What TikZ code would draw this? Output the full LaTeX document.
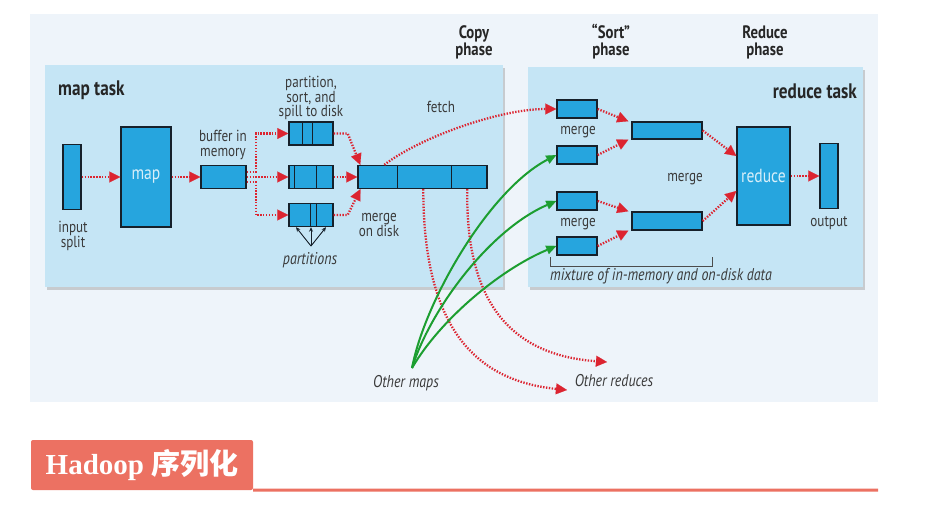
\documentclass[tikz,border=0pt]{standalone}
\usepackage{fontspec}
\usepackage{tikz}
\usetikzlibrary{arrows.meta, shadows}

\newfontfamily\cond[FakeStretch=0.82]{PT Sans}
\newfontfamily\headfont{Liberation Serif}
\newfontfamily\cjk{Noto Sans CJK SC}

\definecolor{pagebg}{RGB}{238,244,250}
\definecolor{taskbg}{RGB}{197,229,245}
\definecolor{boxblue}{RGB}{38,165,222}
\definecolor{boxline}{RGB}{22,32,42}
\definecolor{flowred}{RGB}{220,36,48}
\definecolor{feedgreen}{RGB}{28,158,48}
\definecolor{txtgray}{RGB}{58,58,58}
\definecolor{salmon}{RGB}{236,113,98}

\begin{document}
\begin{tikzpicture}[
    x=1pt, y=-1pt,
    lbl/.style={text=txtgray, align=center, inner sep=0pt,
        font=\cond\fontsize{16}{14.5}\selectfont},
    ilbl/.style={lbl, font=\cond\itshape\fontsize{17}{14}\selectfont},
    phase/.style={lbl, text=black!85, font=\cond\bfseries\fontsize{18}{17}\selectfont},
    tasklbl/.style={text=black!85, inner sep=0pt, font=\cond\bfseries\fontsize{21}{22}\selectfont},
    panel/.style={fill=taskbg, drop shadow={shadow xshift=2pt, shadow yshift=-3pt, opacity=0.35}},
    blk/.style={draw=boxline, fill=boxblue, line width=1.4pt, inner sep=0pt,
        text=white!82!boxblue, font=\cond\fontsize{19}{19}\selectfont},
    divider/.style={draw=boxline, line width=1.4pt},
    flow/.style={draw=flowred, line width=2.3pt, dash pattern=on 1.4pt off 1.5pt,
        -{Triangle[length=11pt, width=11pt, line width=0.1pt]}},
    feed/.style={draw=feedgreen, line width=2pt, -{Triangle[length=10pt, width=9pt, line width=0.1pt]}},
    part/.style={draw=boxline, line width=0.9pt, -{Stealth[length=4.5pt, width=4pt]}},
    bracket/.style={draw=black!70, line width=0.8pt},
    headbox/.style={fill=salmon, text=white, minimum width=222pt, minimum height=50pt,
        rounded corners=2pt, inner sep=0pt, font=\fontsize{29}{29}\selectfont},
    headline/.style={draw=salmon, line width=3pt}
]

\fill[white] (0,0) rectangle (926,528);
\useasboundingbox (0,0) rectangle (926,528);
\fill[pagebg] (30,14) rectangle (878,402);

\fill[panel] (45,65) rectangle (503,287);
\fill[panel] (528,67) rectangle (863,287);

\node[tasklbl, anchor=west] (maptask) at (58,90) {map task};
\node[tasklbl, anchor=east] (redtask) at (857,91) {reduce task};

\node[phase] (copyph) at (474,42) {Copy\\phase};
\node[phase] (sortph) at (611,42) {“Sort”\\phase};
\node[phase] (redph) at (765,42) {Reduce\\phase};

% map side
\node[blk, minimum width=18pt, minimum height=65pt] (split) at (72,177) {};
\node[blk, minimum width=50pt, minimum height=100pt] (map) at (146,177) {map};
\node[blk, minimum width=45pt, minimum height=23pt] (buffer) at (223.5,177) {};
\node[blk, minimum width=44pt, minimum height=23pt] (spill1) at (311,133.5) {};
\node[blk, minimum width=44pt, minimum height=23pt] (spill2) at (311,177) {};
\node[blk, minimum width=44pt, minimum height=23pt] (spill3) at (311,215) {};
\node[blk, minimum width=129pt, minimum height=23pt] (disk) at (422.5,177) {};

\foreach \d in {14,24}
    \draw[divider] ([xshift=\d pt]spill1.north west) -- ([xshift=\d pt]spill1.south west);
\foreach \d in {6,28}
    \draw[divider] ([xshift=\d pt]spill2.north west) -- ([xshift=\d pt]spill2.south west);
\foreach \d in {22,28}
    \draw[divider] ([xshift=\d pt]spill3.north west) -- ([xshift=\d pt]spill3.south west);
\foreach \d in {40,94}
    \draw[divider] ([xshift=\d pt]disk.north west) -- ([xshift=\d pt]disk.south west);

\node[lbl] (splitlbl) at (73,236) {input\\split};
\node[lbl] (buflbl) at (223,145) {buffer in\\memory};
\node[lbl] (spilllbl) at (311,98) {partition,\\sort, and\\spill to disk};
\node[lbl] (fetchlbl) at (441,107) {fetch};
\node[lbl] (disklbl) at (379,225) {merge\\on disk};
\node[ilbl] (partlbl) at (310,260) {partitions};
\coordinate (pt) at (311,246);

\draw[flow] (split) -- (map);
\draw[flow] (map) -- (buffer);
\draw[flow] ([yshift=5pt]buffer.east) -- ++(9,0) |- (spill1);
\draw[flow] (buffer) -- (spill2);
\draw[flow] ([yshift=-5pt]buffer.east) -- ++(9,0) |- (spill3);
\draw[flow] (spill1.east) -- ++(14,0) -- ([xshift=3pt]disk.north west);
\draw[flow] (spill2) -- (disk);
\draw[flow] (spill3.east) -- ++(14,0) -- ([xshift=3pt]disk.south west);

\foreach \d in {-15,0,15}
    \draw[part] (pt) -- ([xshift=\d pt]spill3.south);

% reduce side
\node[blk, minimum width=40pt, minimum height=18pt] (r1) at (577,109) {};
\node[blk, minimum width=40pt, minimum height=18pt] (r2) at (577,155) {};
\node[blk, minimum width=40pt, minimum height=18pt] (r3) at (577,201) {};
\node[blk, minimum width=40pt, minimum height=18pt] (r4) at (577,246) {};
\node[blk, minimum width=70pt, minimum height=17pt] (m1) at (667,130.5) {};
\node[blk, minimum width=70pt, minimum height=18pt] (m2) at (667,221) {};
\node[blk, minimum width=53pt, minimum height=98pt] (reduce) at (763.5,176) {reduce};
\node[blk, minimum width=18pt, minimum height=65pt] (output) at (829,176) {};

\node[lbl] (mlbl1) at (578,132) {merge};
\node[lbl] (mlbl2) at (578,224) {merge};
\node[lbl] (mlbl3) at (685,179) {merge};
\node[lbl] (outlbl) at (829,223) {output};
\node[ilbl] (mixlbl) at (661,276) {mixture of in-memory and on-disk data};
\draw[bracket] (550,257) |- (712,266) -- (712,257);

\draw[flow] (r1.east) -- ([xshift=-3pt]m1.north west);
\draw[flow] (r2.east) -- ([xshift=-3pt]m1.south west);
\draw[flow] (r3.east) -- ([xshift=-3pt]m2.north west);
\draw[flow] (r4.east) -- ([xshift=-3pt]m2.south west);
\draw[flow] (m1.east) -- ([yshift=20pt]reduce.west);
\draw[flow] (m2.east) -- ([yshift=-15pt]reduce.west);
\draw[flow] (reduce) -- (output);

% copy phase
\node[ilbl] (othmaps) at (406,383) {Other maps};
\node[ilbl] (othreds) at (614,381) {Other reduces};
\coordinate (om) at (412,368);
\coordinate (or1) at (567,390);
\coordinate (or2) at (607,362);

\draw[flow] ([xshift=27pt]disk.north west) .. controls +(35,-27) and +(-57,0) .. (r1.west);
\draw[flow] ([xshift=66pt]disk.south west) .. controls +(0,132) and +(-97,-10) .. (or1);
\draw[flow] ([xshift=110pt]disk.south west) .. controls +(-2,112) and +(-97,-7) .. (or2);

\draw[feed] (om) .. controls +(13,-68) and +(-67,35) .. (r2.west);
\draw[feed] (om) .. controls +(18,-58) and +(-67,29) .. (r3.west);
\draw[feed] (om) .. controls +(28,-48) and +(-57,24) .. (r4.west);

% heading
\node[headbox] (head) at (142,465) {\headfont\bfseries Hadoop \cjk\bfseries 序列化};
\coordinate (ruleend) at (878,490);
\draw[headline] (head.south east) -- (ruleend);

\end{tikzpicture}
\end{document}
